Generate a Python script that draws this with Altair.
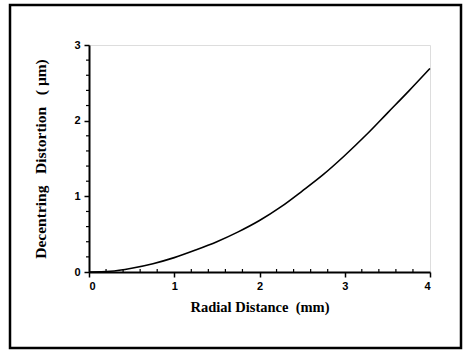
import altair as alt
import pandas as pd

# Curve values
radial = [0.0, 0.25, 0.5, 0.75, 1.0, 1.25, 1.5, 1.75, 2.0, 2.25, 2.5, 2.75, 3.0, 3.25, 3.5, 3.75, 4.0]
distortion = [0.0, 0.01, 0.05, 0.11, 0.19, 0.29, 0.40, 0.53, 0.68, 0.86, 1.07, 1.29, 1.54, 1.81, 2.10, 2.39, 2.69]

x_major = [0, 1, 2, 3, 4]
y_major = [0, 1, 2, 3]
x_minor = [0.2, 0.4, 0.6, 0.8, 1.2, 1.4, 1.6, 1.8, 2.2, 2.4, 2.6, 2.8, 3.2, 3.4, 3.6, 3.8]
y_minor = [0.2, 0.4, 0.6, 0.8, 1.2, 1.4, 1.6, 1.8, 2.2, 2.4, 2.6, 2.8]

W, H = 341, 227

df = pd.DataFrame({"r": radial, "d": distortion})
xs = alt.Scale(domain=[0, 4], nice=False)
ys = alt.Scale(domain=[0, 3], nice=False)

label_font = "Liberation Sans"
title_font = "Liberation Serif"
gap = "\u00a0" * 3

line = alt.Chart(df).mark_line(color="black", strokeWidth=1.6, interpolate="monotone").encode(
    x=alt.X("r:Q", scale=xs,
            axis=alt.Axis(values=x_major, format="d", title="Radial Distance\u00a0\u00a0(mm)",
                          titleFont=title_font, titleFontSize=14.5, titleFontWeight="bold",
                          titleColor="black", titlePadding=9,
                          labelFont=label_font, labelFontSize=11, labelFontWeight="bold",
                          labelColor="black", labelPadding=3,
                          domainColor="black", domainWidth=2, tickColor="black",
                          tickWidth=1.5, tickSize=5, grid=False)),
    y=alt.Y("d:Q", scale=ys,
            axis=alt.Axis(values=y_major, format="d",
                          title="Decentring" + gap + "Distortion" + gap + "(\u00a0\u03bcm)",
                          titleFont=title_font, titleFontSize=15.5, titleFontWeight="bold",
                          titleColor="black", titlePadding=25,
                          labelFont=label_font, labelFontSize=11, labelFontWeight="bold",
                          labelColor="black", labelPadding=4,
                          domainColor="black", domainWidth=2, tickColor="black",
                          tickWidth=1.5, tickSize=5, grid=False)),
)

xminor = alt.Chart(pd.DataFrame({"v": x_minor})).mark_rule(color="black", strokeWidth=1.2).encode(
    x=alt.X("v:Q", scale=xs),
    y=alt.value(H),
    y2=alt.value(H - 3),
)

yminor = alt.Chart(pd.DataFrame({"v": y_minor})).mark_rule(color="black", strokeWidth=1.2).encode(
    y=alt.Y("v:Q", scale=ys),
    x=alt.value(0),
    x2=alt.value(-3),
)

frame = alt.Chart(pd.DataFrame({"a": [0]})).mark_rect(
    fill=None, stroke="black", strokeWidth=2.5, clip=False
).encode(
    x=alt.value(-79), x2=alt.value(372),
    y=alt.value(-40), y2=alt.value(H + 76),
)

chart = alt.layer(frame, xminor, yminor, line).properties(
    width=W, height=H,
    autosize=alt.AutoSizeParams(type="none"),
    padding={"left": 89, "top": 45, "right": 33, "bottom": 79},
).configure_view(stroke=None).configure(background="white")

chart.save("out.html", embed_options={"renderer": "svg", "actions": False})
